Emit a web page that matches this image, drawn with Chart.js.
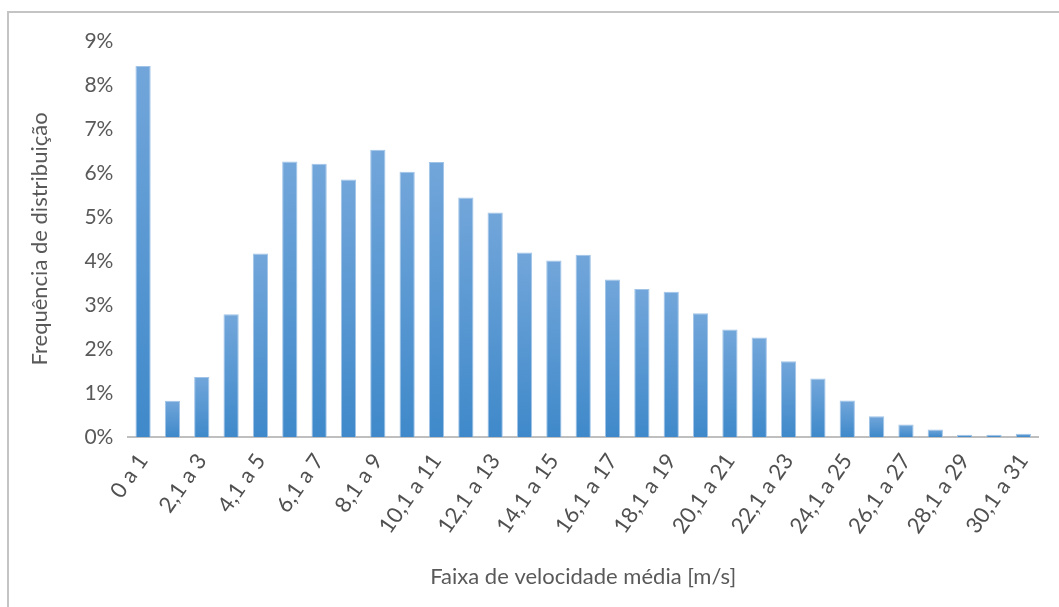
<!DOCTYPE html>
<html>
<head>
<meta charset="utf-8">
<script src="https://cdn.jsdelivr.net/npm/chart.js@4.4.1/dist/chart.umd.min.js"></script>
<style>
  html, body { margin: 0; padding: 0; background: #ffffff; }
  #wrap { position: relative; width: 1059px; height: 607px; overflow: hidden; }
  #frame { position: absolute; left: 7px; top: 11px; right: -10px; bottom: -10px;
           border-top: 2px solid #c4c4c4; border-left: 2px solid #c4c4c4; }
  canvas { position: absolute; left: 0; top: 0; }
</style>
</head>
<body>
<div id="wrap">
  <div id="frame"></div>
  <canvas id="chart" width="1059" height="607"></canvas>
</div>
<script>
// Wind speed classes [m/s]
const faixas = [
  '0 a 1', '1,1 a 2', '2,1 a 3', '3,1 a 4', '4,1 a 5', '5,1 a 6', '6,1 a 7', '7,1 a 8',
  '8,1 a 9', '9,1 a 10', '10,1 a 11', '11,1 a 12', '12,1 a 13', '13,1 a 14', '14,1 a 15',
  '15,1 a 16', '16,1 a 17', '17,1 a 18', '18,1 a 19', '19,1 a 20', '20,1 a 21', '21,1 a 22',
  '22,1 a 23', '23,1 a 24', '24,1 a 25', '25,1 a 26', '26,1 a 27', '27,1 a 28', '28,1 a 29',
  '29,1 a 30', '30,1 a 31'
];

// Distribution frequency per class [%]
const frequencia = [
  8.43, 0.82, 1.36, 2.79, 4.17, 6.26, 6.21, 5.85,
  6.53, 6.03, 6.25, 5.44, 5.10, 4.19, 4.01,
  4.14, 3.58, 3.36, 3.30, 2.81, 2.44, 2.26,
  1.72, 1.33, 0.83, 0.47, 0.28, 0.17, 0.05,
  0.05, 0.07
];

// Y axis tick marks [%]
const yTicks = [0, 1, 2, 3, 4, 5, 6, 7, 8, 9];

const FONT = 'Lato, "Open Sans", sans-serif';
const TEXT = '#595959';

// Each bar gets its own vertical gradient, lighter at the top
function barFill(ctx) {
  const chart = ctx.chart;
  const y = chart.scales && chart.scales.y;
  if (!chart.chartArea || !y || ctx.type !== 'data') return '#5b9bd5';
  const top = y.getPixelForValue(ctx.parsed.y);
  const base = y.getPixelForValue(0);
  if (!isFinite(top) || !isFinite(base) || base - top < 1) return '#5b9bd5';
  const g = chart.ctx.createLinearGradient(0, top, 0, base);
  g.addColorStop(0, '#72a6da');
  g.addColorStop(1, '#3f89ca');
  return g;
}

new Chart(document.getElementById('chart'), {
  type: 'bar',
  data: {
    labels: faixas,
    datasets: [{
      data: frequencia,
      backgroundColor: barFill,
      borderColor: 'rgba(150,190,230,0.9)',
      borderWidth: { top: 1, left: 1, right: 1, bottom: 0 },
      categoryPercentage: 1.0,
      barPercentage: 0.52
    }]
  },
  options: {
    responsive: false,
    animation: false,
    devicePixelRatio: 1,
    layout: { padding: { left: 27, right: 21, top: 41, bottom: 17 } },
    plugins: {
      legend: { display: false },
      tooltip: { enabled: false }
    },
    scales: {
      x: {
        grid: { display: false, drawTicks: false },
        border: { display: true, color: '#bfbfbf', width: 2 },
        ticks: {
          autoSkip: false,
          maxRotation: 55,
          minRotation: 55,
          padding: 12,
          color: '#505050',
          font: { family: FONT, size: 22 },
          callback: (v, i) => (i % 2 === 0 ? faixas[i] : '')
        },
        title: {
          display: true,
          text: 'Faixa de velocidade média [m/s]',
          color: TEXT,
          font: { family: FONT, size: 22 },
          padding: { top: 13, bottom: 0 }
        }
      },
      y: {
        min: 0,
        max: 9,
        afterBuildTicks: (axis) => { axis.ticks = yTicks.map(v => ({ value: v })); },
        grid: { display: false, drawTicks: false },
        border: { display: false },
        ticks: {
          padding: 15,
          color: TEXT,
          font: { family: FONT, size: 21 },
          callback: (v) => v + '%'
        },
        title: {
          display: true,
          text: 'Frequência de distribuição',
          color: TEXT,
          font: { family: FONT, size: 22 },
          padding: { top: 0, bottom: 16 }
        }
      }
    }
  }
});
</script>
</body>
</html>
